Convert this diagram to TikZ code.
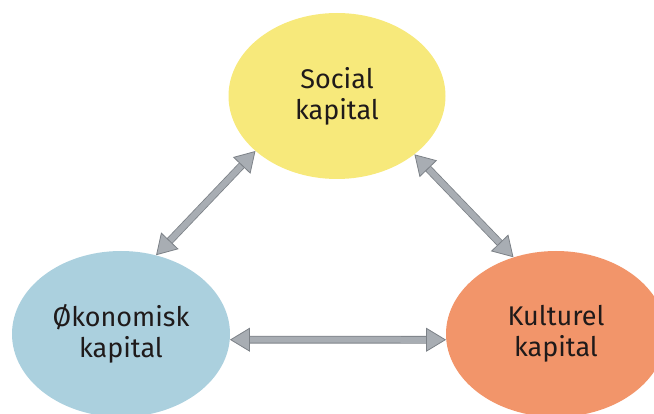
\documentclass[tikz,border=0pt]{standalone}
\usepackage{fontspec}
\setmainfont{Fira Sans}
\usetikzlibrary{shapes.geometric,arrows.meta}
\definecolor{socyellow}{HTML}{F7E97B}
\definecolor{oekblue}{HTML}{ABD0DE}
\definecolor{kulorange}{HTML}{F2956A}
\definecolor{arrowfill}{HTML}{A8ADB3}
\definecolor{arrowdark}{HTML}{7C8187}
\definecolor{txt}{HTML}{1F1A1A}
\tikzset{
  capital/.style={ellipse, inner sep=0pt, minimum width=218pt, minimum height=166pt,
    text=txt, align=center, font=\fontsize{27}{31}\selectfont},
  link/.style={draw=arrowfill, line width=6pt,
    preaction={draw=arrowdark, line width=7.6pt, arrows=-, shorten <=12pt, shorten >=12pt},
    {Triangle[length=20pt,width=24pt,line width=0.8pt,color=arrowdark,fill=arrowfill]}-{Triangle[length=20pt,width=24pt,line width=0.8pt,color=arrowdark,fill=arrowfill]}}
}
\begin{document}
\begin{tikzpicture}[x=1pt,y=-1pt]
\useasboundingbox (0,0) rectangle (654,414);
\node[capital, fill=socyellow, minimum width=217pt] (soc) at (337,96) {Social\\kapital};
\node[capital, fill=oekblue] (oek) at (121,334) {Økonomisk\\kapital};
\node[capital, fill=kulorange, minimum width=220pt] (kul) at (556,334) {Kulturel\\kapital};
\draw[link] (soc.214) -- (oek.66);
\draw[link] (soc.323) -- (kul.119);
\draw[link] (oek.-3) -- (kul.183);
\end{tikzpicture}
\end{document}
